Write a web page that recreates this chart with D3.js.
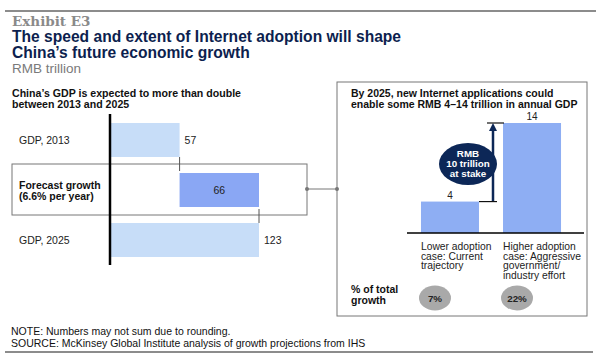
<!DOCTYPE html>
<html>
<head>
<meta charset="utf-8">
<script src="https://cdn.jsdelivr.net/npm/d3@7"></script>
<style>
  body { margin: 0; background: #fff; }
  svg { font-family: "Liberation Sans", Arial, sans-serif; }
</style>
</head>
<body>
<script>
// left panel: GDP waterfall
const gdpLabels = ['GDP, 2013', 'Forecast growth', 'GDP, 2025'];
const gdpValues = [57, 66, 123];
// right panel: internet contribution
const caseLabels = [
  ['Lower adoption', 'case: Current', 'trajectory'],
  ['Higher adoption', 'case: Aggressive', 'government/', 'industry effort']
];
const caseValues = [4, 14];
const shareLabels = ['7%', '22%'];

const W = 600, H = 363;
const svg = d3.select('body').append('svg')
  .attr('width', W).attr('height', H);

// header
svg.append('line').attr('x1', 5).attr('x2', 596).attr('y1', 11).attr('y2', 11)
  .attr('stroke', '#8c8c8c').attr('stroke-width', 2);
svg.append('text').attr('x', 12).attr('y', 25.5)
  .style('font-family', '"DejaVu Serif", Georgia, serif').style('font-size', '13.5px')
  .style('font-weight', 'bold').attr('fill', '#8a8a8a').text('Exhibit E3');
const titleLines = ['The speed and extent of Internet adoption will shape', 'China\u2019s future economic growth'];
titleLines.forEach((t, i) => {
  svg.append('text').attr('x', 12).attr('y', 41.5 + i * 16)
    .style('font-size', '15.6px').style('font-weight', 'bold').attr('fill', '#0d1f4f').text(t);
});
svg.append('text').attr('x', 12).attr('y', 72.5).style('font-size', '13.5px')
  .attr('fill', '#7a7a7a').text('RMB trillion');

// left subtitle
['China\u2019s GDP is expected to more than double', 'between 2013 and 2025'].forEach((t, i) => {
  svg.append('text').attr('x', 12).attr('y', 97 + i * 11)
    .style('font-size', '10.6px').style('font-weight', 'bold').attr('fill', '#111').text(t);
});

// forecast box
svg.append('rect').attr('x', 12).attr('y', 164).attr('width', 295).attr('height', 51)
  .attr('fill', 'none').attr('stroke', '#777').attr('stroke-width', 1);

const x = d3.scaleLinear().domain([0, 123]).range([111, 259]);
const y = d3.scaleBand().domain(gdpLabels).range([115, 265]).paddingInner(0.32).paddingOuter(0.16);

const starts = [0, gdpValues[0], 0];
const fills = ['#c7ddf8', '#8aa7f4', '#c7ddf8'];

svg.selectAll('.gdp-bar').data(gdpValues).enter().append('rect')
  .attr('class', 'gdp-bar')
  .attr('x', (d, i) => x(starts[i]))
  .attr('y', (d, i) => y(gdpLabels[i]))
  .attr('width', (d, i) => x(starts[i] + d) - x(starts[i]))
  .attr('height', y.bandwidth())
  .attr('fill', (d, i) => fills[i]);

// connector ticks
svg.append('line').attr('x1', x(gdpValues[0])).attr('x2', x(gdpValues[0]))
  .attr('y1', y(gdpLabels[0]) + y.bandwidth()).attr('y2', y(gdpLabels[1]) - 2)
  .attr('stroke', '#555').attr('stroke-width', 1);
svg.append('line').attr('x1', x(gdpValues[2])).attr('x2', x(gdpValues[2]))
  .attr('y1', y(gdpLabels[1]) + y.bandwidth() + 2).attr('y2', y(gdpLabels[2]))
  .attr('stroke', '#555').attr('stroke-width', 1);

// value labels
svg.selectAll('.gdp-val').data(gdpValues).enter().append('text')
  .attr('class', 'gdp-val')
  .attr('x', (d, i) => i === 1 ? (x(starts[i]) + x(starts[i] + d)) / 2 : x(starts[i] + d) + 5)
  .attr('y', (d, i) => y(gdpLabels[i]) + y.bandwidth() / 2 + 4)
  .attr('text-anchor', (d, i) => i === 1 ? 'middle' : 'start')
  .style('font-size', '10.5px').attr('fill', '#222')
  .text(d => d);

// category labels
svg.append('text').attr('x', 19).attr('y', y(gdpLabels[0]) + y.bandwidth() / 2 + 4)
  .style('font-size', '10.5px').attr('fill', '#222').text(gdpLabels[0]);
svg.append('text').attr('x', 19).attr('y', y(gdpLabels[1]) + y.bandwidth() / 2 - 1)
  .style('font-size', '10.5px').style('font-weight', 'bold').attr('fill', '#111').text(gdpLabels[1]);
svg.append('text').attr('x', 19).attr('y', y(gdpLabels[1]) + y.bandwidth() / 2 + 10)
  .style('font-size', '10.5px').style('font-weight', 'bold').attr('fill', '#111').text('(6.6% per year)');
svg.append('text').attr('x', 19).attr('y', y(gdpLabels[2]) + y.bandwidth() / 2 + 4)
  .style('font-size', '10.5px').attr('fill', '#222').text(gdpLabels[2]);

// axis line
svg.append('line').attr('x1', 110).attr('x2', 110).attr('y1', 114).attr('y2', 265)
  .attr('stroke', '#000').attr('stroke-width', 2.5);

// link between panels
svg.append('line').attr('x1', 307).attr('x2', 337).attr('y1', 189).attr('y2', 189)
  .attr('stroke', '#777').attr('stroke-width', 1);
[307, 337].forEach(cx => svg.append('circle').attr('cx', cx).attr('cy', 189).attr('r', 2).attr('fill', '#777'));

// right panel box
svg.append('rect').attr('x', 337).attr('y', 82).attr('width', 250).attr('height', 234)
  .attr('fill', 'none').attr('stroke', '#777').attr('stroke-width', 1);
['By 2025, new Internet applications could', 'enable some RMB 4\u201314 trillion in annual GDP'].forEach((t, i) => {
  svg.append('text').attr('x', 351).attr('y', 97 + i * 11)
    .style('font-size', '10.5px').style('font-weight', 'bold').attr('fill', '#111').text(t);
});

const xb = d3.scaleBand().domain(d3.range(caseValues.length)).range([409, 573]).paddingInner(0.293).paddingOuter(0.146);
const yr = d3.scaleLinear().domain([0, 14]).range([233, 123]);

svg.selectAll('.case-bar').data(caseValues).enter().append('rect')
  .attr('class', 'case-bar')
  .attr('x', (d, i) => xb(i))
  .attr('y', d => yr(d))
  .attr('width', xb.bandwidth())
  .attr('height', d => yr(0) - yr(d))
  .attr('fill', '#8eaef3');

svg.selectAll('.case-val').data(caseValues).enter().append('text')
  .attr('class', 'case-val')
  .attr('x', (d, i) => xb(i) + xb.bandwidth() / 2)
  .attr('y', d => yr(d) - 3)
  .attr('text-anchor', 'middle')
  .style('font-size', '10px').attr('fill', '#222').text(d => d);

svg.append('line').attr('x1', 407).attr('x2', 584).attr('y1', yr(0)).attr('y2', yr(0))
  .attr('stroke', '#000').attr('stroke-width', 1.5);

// case labels
caseLabels.forEach((lines, i) => {
  lines.forEach((t, j) => {
    svg.append('text').attr('x', xb(i)).attr('y', 250 + j * 9.7)
      .style('font-size', '10.3px').attr('fill', '#222').text(t);
  });
});

// arrow showing the gap
const ax = 493;
svg.append('defs').append('marker').attr('id', 'head')
  .attr('viewBox', '0 0 10 10').attr('refX', 5).attr('refY', 5)
  .attr('markerWidth', 3.2).attr('markerHeight', 3.2).attr('orient', 'auto')
  .append('path').attr('d', 'M0,0L10,5L0,10Z').attr('fill', '#0c2757');
svg.append('line').attr('x1', ax).attr('x2', ax).attr('y1', yr(caseValues[0])).attr('y2', yr(caseValues[1]) + 4)
  .attr('stroke', '#0c2757').attr('stroke-width', 2.5).attr('marker-end', 'url(#head)');
svg.append('line').attr('x1', 487).attr('x2', 504).attr('y1', yr(caseValues[1])).attr('y2', yr(caseValues[1]))
  .attr('stroke', '#111').attr('stroke-width', 1.2);
svg.append('line').attr('x1', 479).attr('x2', 497).attr('y1', yr(caseValues[0])).attr('y2', yr(caseValues[0]))
  .attr('stroke', '#111').attr('stroke-width', 1.2);

svg.append('ellipse').attr('cx', 468).attr('cy', 164).attr('rx', 29).attr('ry', 21).attr('fill', '#0c2757');
['RMB', (caseValues[1] - caseValues[0]) + ' trillion', 'at stake'].forEach((t, i) => {
  svg.append('text').attr('x', 468).attr('y', 157 + i * 10).attr('text-anchor', 'middle')
    .style('font-size', '9.8px').style('font-weight', 'bold').attr('fill', '#fff').text(t);
});

// share of growth
['% of total', 'growth'].forEach((t, i) => {
  svg.append('text').attr('x', 351).attr('y', 293 + i * 10.5)
    .style('font-size', '10.5px').style('font-weight', 'bold').attr('fill', '#111').text(t);
});
svg.selectAll('.share').data(shareLabels).enter().append('ellipse')
  .attr('class', 'share')
  .attr('cx', (d, i) => xb(i) + 14)
  .attr('cy', 298).attr('rx', 16).attr('ry', 12.5).attr('fill', '#a9a9a9');
svg.selectAll('.share-txt').data(shareLabels).enter().append('text')
  .attr('class', 'share-txt')
  .attr('x', (d, i) => xb(i) + 14).attr('y', 301.5).attr('text-anchor', 'middle')
  .style('font-size', '9.8px').style('font-weight', 'bold').attr('fill', '#222').text(d => d);

// footer
svg.append('text').attr('x', 11).attr('y', 335).style('font-size', '10.5px').attr('fill', '#111')
  .text('NOTE: Numbers may not sum due to rounding.');
svg.append('text').attr('x', 11).attr('y', 347).style('font-size', '10.5px').attr('fill', '#111')
  .text('SOURCE: McKinsey Global Institute analysis of growth projections from IHS');
svg.append('line').attr('x1', 5).attr('x2', 593).attr('y1', 352).attr('y2', 352)
  .attr('stroke', '#8c8c8c').attr('stroke-width', 2);
</script>
</body>
</html>
